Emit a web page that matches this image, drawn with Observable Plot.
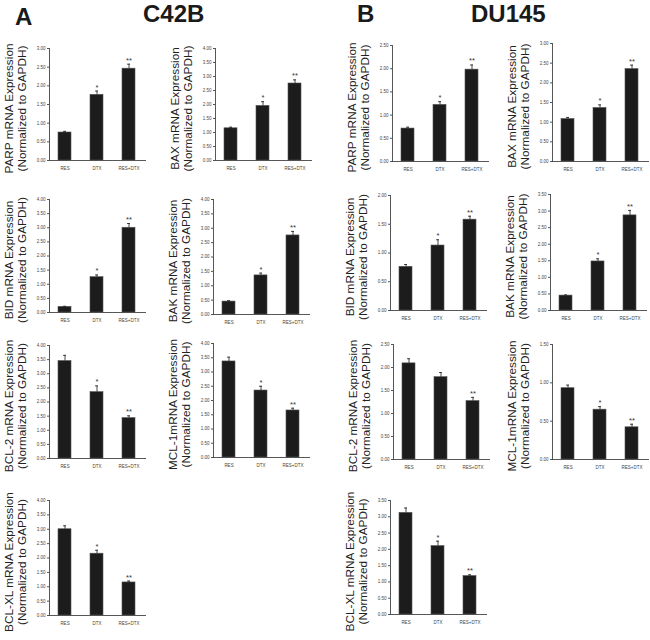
<!DOCTYPE html>
<html>
<head>
<meta charset="utf-8">
<script src="https://cdn.jsdelivr.net/npm/d3@7"></script>
<script src="https://cdn.jsdelivr.net/npm/@observablehq/plot@0.6"></script>
<style>
  html, body { margin: 0; padding: 0; background: #fff; }
  #fig { position: relative; width: 650px; height: 640px; overflow: hidden; background: #fff;
         font-family: "Liberation Sans", Arial, sans-serif; }
  .hdr { position: absolute; top: 2px; font-size: 24px; font-weight: bold; line-height: 1; color: #1a1a1a; }
  .panel { position: absolute; }
</style>
</head>
<body>
<div id="fig">
  <div class="hdr" id="hA" style="left:15px; top:5px;"></div>
  <div class="hdr" id="hC" style="left:143px;"></div>
  <div class="hdr" id="hB" style="left:357px;"></div>
  <div class="hdr" id="hD" style="left:471px;"></div>
</div>
<script>
// ---------------- data ----------------
const panelLetters = ["A", "B"];
const cellLines = ["C42B", "DU145"];
const categories = ["RES", "DTX", "RES+DTX"];
const genes = ["PARP", "BAX", "BID", "BAK", "BCL-2", "MCL-1", "BCL-XL"];
const yLabels = [
  "PARP mRNA Expression", "BAX mRNA Expression", "BID mRNA Expression",
  "BAK mRNA Expression", "BCL-2 mRNA Expression", "MCL-1mRNA Expression",
  "BCL-XL mRNA Expression"
];
const yLabelLine2 = "(Normalized to GAPDH)";

const c42bMean = [
  [0.75, 1.76, 2.46], [1.15, 1.95, 2.75], [0.20, 1.25, 3.00], [0.45, 1.36, 2.75],
  [3.45, 2.35, 1.43], [3.37, 2.35, 1.65], [3.00, 2.15, 1.15]
];
const c42bErr = [
  [0.03, 0.10, 0.12], [0.04, 0.15, 0.13], [0.02, 0.08, 0.15], [0.03, 0.08, 0.14],
  [0.20, 0.22, 0.08], [0.15, 0.15, 0.08], [0.12, 0.12, 0.05]
];
const c42bMax = [3.0, 4.0, 4.0, 4.0, 4.0, 4.0, 4.0];
const c42bSig = [
  ["", "*", "**"], ["", "*", "**"], ["", "*", "**"], ["", "*", "**"],
  ["", "*", "**"], ["", "*", "**"], ["", "*", "**"]
];

const du145Mean = [
  [0.71, 1.22, 1.98], [1.08, 1.36, 2.35], [0.76, 1.13, 1.58], [0.45, 1.48, 2.87],
  [2.09, 1.79, 1.27], [0.93, 0.65, 0.42], [3.12, 2.10, 1.18]
];
const du145Err = [
  [0.03, 0.07, 0.10], [0.04, 0.08, 0.10], [0.04, 0.10, 0.06], [0.02, 0.08, 0.15],
  [0.10, 0.10, 0.08], [0.04, 0.04, 0.04], [0.15, 0.15, 0.04]
];
const du145Max = [2.5, 3.0, 2.0, 3.5, 2.5, 1.5, 3.5];
const du145Sig = [
  ["", "*", "**"], ["", "*", "**"], ["", "*", "**"], ["", "*", "**"],
  ["", "", "**"], ["", "*", "**"], ["", "*", "**"]
];
const tickStep = 0.5;

// ---------------- layout (panel frames: y-axis x, top y, baseline y) ----------------
const c42bFrames = [[49, 48, 160], [215, 48, 160], [49, 199, 312], [213, 199, 314],
                    [49, 345, 458], [213, 343, 457], [49, 500, 615]];
const du145Frames = [[392, 45, 161], [552, 43, 161], [390, 195, 310], [550, 194, 310],
                     [393, 344, 459], [552, 344, 459], [390, 500, 614]];

document.getElementById("hA").textContent = panelLetters[0];
document.getElementById("hB").textContent = panelLetters[1];
document.getElementById("hC").textContent = cellLines[0];
document.getElementById("hD").textContent = cellLines[1];

const fig = document.getElementById("fig");
const ML = 52, MR = 6, MT = 10, MB = 14, FW = 96;
const ink = "#1c1c1c";

function drawPanel(frame, mean, err, max, sig, label) {
  const [ax, yTop, y0] = frame;
  const rows = categories.map((c, i) => ({cat: c, mean: mean[i], err: err[i], sig: sig[i]}));
  const ticks = d3.range(0, max + 1e-9, tickStep);
  const width = ML + FW + MR;
  const height = MT + (y0 - yTop) + MB;
  const plot = Plot.plot({
    width, height,
    marginLeft: ML, marginRight: MR, marginTop: MT, marginBottom: MB,
    x: {domain: categories, paddingInner: 0.58, paddingOuter: 0.29},
    y: {domain: [0, max]},
    style: {background: "transparent", overflow: "visible", maxWidth: "none",
            fontFamily: "'Liberation Sans', Arial, sans-serif", color: "#333"},
    marks: [
      Plot.barY(rows, {x: "cat", y: "mean", fill: ink, stroke: "#555", strokeWidth: 0.6}),
      Plot.ruleX(rows, {x: "cat", y1: "mean", y2: d => d.mean + d.err, stroke: ink, strokeWidth: 0.8}),
      Plot.tickY(rows, {x: "cat", y: d => d.mean + d.err, insetLeft: 5, insetRight: 5, stroke: ink, strokeWidth: 0.8}),
      Plot.text(rows, {x: "cat", y: d => d.mean + d.err, text: "sig", dy: -1.5, lineAnchor: "bottom",
                       fontSize: 7.5, fill: "#333"}),
      Plot.axisY(ticks, {tickSize: 2, tickPadding: 2, tickFormat: d3.format(".2f"), fontSize: 4.5,
                         label: null, stroke: "#555", fill: "#444"}),
      Plot.axisX({tickSize: 0, tickPadding: 6, fontSize: 4.5, label: null, fill: "#444"}),
      Plot.frame({anchor: "left", stroke: "#444", strokeWidth: 0.9}),
      Plot.frame({anchor: "bottom", stroke: "#444", strokeWidth: 0.9}),
      Plot.text([label + "\n" + yLabelLine2], {
        text: d => d, frameAnchor: "left", rotate: -90, dx: -34, dy: 4,
        fontSize: 11.8, lineHeight: 1.08, textAnchor: "middle", lineAnchor: "middle", fill: "#222"
      })
    ]
  });
  const div = document.createElement("div");
  div.className = "panel";
  div.style.left = (ax - ML) + "px";
  div.style.top = (yTop - MT) + "px";
  div.style.width = width + "px";
  div.style.height = height + "px";
  div.appendChild(plot);
  fig.appendChild(div);
}

genes.forEach((g, i) => {
  drawPanel(c42bFrames[i], c42bMean[i], c42bErr[i], c42bMax[i], c42bSig[i], yLabels[i]);
  drawPanel(du145Frames[i], du145Mean[i], du145Err[i], du145Max[i], du145Sig[i], yLabels[i]);
});
</script>
</body>
</html>
